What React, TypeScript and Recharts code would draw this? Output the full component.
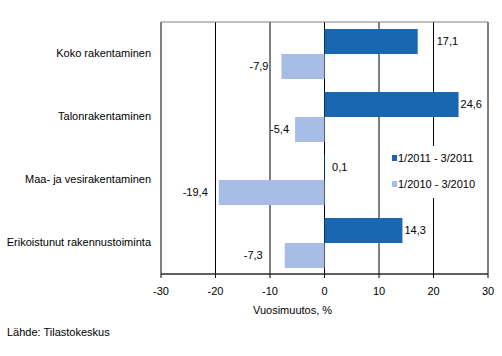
import { Bar, BarChart, CartesianGrid, ReferenceArea, XAxis, YAxis } from "recharts";

const CATEGORIES = [
  "Koko rakentaminen",
  "Talonrakentaminen",
  "Maa- ja vesirakentaminen",
  "Erikoistunut rakennustoiminta",
];
const Q1_2011 = [17.1, 24.6, 0.1, 14.3];
const Q1_2010 = [-7.9, -5.4, -19.4, -7.3];
const X_TICKS = [-30, -20, -10, 0, 10, 20, 30];

const SERIES = [
  { key: "y2011", label: "1/2011 - 3/2011", color: "#1a67b1" },
  { key: "y2010", label: "1/2010 - 3/2010", color: "#a8bce8" },
];

// label gaps from the bar end, as placed in the original
const GAP_2011 = [19, 2, 7, 2];
const GAP_2010 = [13, 6, 11, 22];

const FONT = "'Liberation Sans', Arial, sans-serif";

const data = CATEGORIES.map((name, i) => ({ name, y2011: Q1_2011[i], y2010: Q1_2010[i] }));

const fmt = (v: number) => v.toFixed(1).replace(".", ",");

function makeLabel(gaps: number[]) {
  return (props: any) => {
    const { x, y, width, height, value, index } = props;
    const end = value >= 0 ? Math.max(x, x + width) : Math.min(x, x + width);
    const gap = gaps[index] ?? 4;
    return (
      <text
        x={value >= 0 ? end + gap : end - gap}
        y={y + height / 2}
        dy="0.35em"
        textAnchor={value >= 0 ? "start" : "end"}
        fontSize={11}
        fontFamily={FONT}
        fill="#000"
      >
        {fmt(value)}
      </text>
    );
  };
}

function CategoryTick({ x, y, payload }: any) {
  return (
    <text x={x} y={y} dy="0.35em" textAnchor="end" fontSize={11} fontFamily={FONT} fill="#000">
      {payload.value}
    </text>
  );
}

function LegendBox() {
  return (
    <div
      style={{
        position: "absolute",
        left: 390,
        top: 146,
        width: 96,
        height: 52,
        background: "#fff",
        fontFamily: FONT,
        fontSize: 11,
        color: "#000",
      }}
    >
      {SERIES.map((s, i) => (
        <div
          key={s.key}
          style={{ position: "absolute", left: 2, top: i === 0 ? 6 : 32, display: "flex", alignItems: "center", whiteSpace: "nowrap" }}
        >
          <span style={{ display: "inline-block", width: 5, height: 6, background: s.color, marginRight: 1 }} />
          {s.label}
        </div>
      ))}
    </div>
  );
}

export default function App() {
  return (
    <div style={{ position: "absolute", left: 0, top: 0, width: 502, height: 356, background: "#fff" }}>
      <BarChart
        width={502}
        height={356}
        data={data}
        layout="vertical"
        margin={{ top: 22, right: 14, left: 0, bottom: 52 }}
        barSize={25}
        barGap={0}
      >
        <CartesianGrid horizontal={false} vertical stroke="#000" />
        <XAxis
          type="number"
          domain={[-30, 30]}
          ticks={X_TICKS}
          interval={0}
          height={30}
          axisLine={{ stroke: "#000" }}
          tickLine={{ stroke: "#000" }}
          tickSize={4}
          tickMargin={9}
          tick={{ fill: "#000", fontSize: 11, fontFamily: FONT }}
        />
        <YAxis
          type="category"
          dataKey="name"
          width={161}
          axisLine={false}
          tickLine={false}
          tickSize={0}
          tickMargin={10}
          tick={<CategoryTick />}
        />
        <ReferenceArea x1={-30} x2={30} fill="none" stroke="#808080" strokeWidth={1} />
        {SERIES.map((s, si) => (
          <Bar
            key={s.key}
            dataKey={s.key}
            name={s.label}
            fill={s.color}
            isAnimationActive={false}
            label={makeLabel(si === 0 ? GAP_2011 : GAP_2010)}
          />
        ))}
      </BarChart>
      <LegendBox />
      <div style={{ position: "absolute", left: 253, top: 304, fontFamily: FONT, fontSize: 11, color: "#000" }}>
        Vuosimuutos, %
      </div>
      <div style={{ position: "absolute", left: 7, top: 326, fontFamily: FONT, fontSize: 11, color: "#000" }}>
        Lähde: Tilastokeskus
      </div>
    </div>
  );
}
